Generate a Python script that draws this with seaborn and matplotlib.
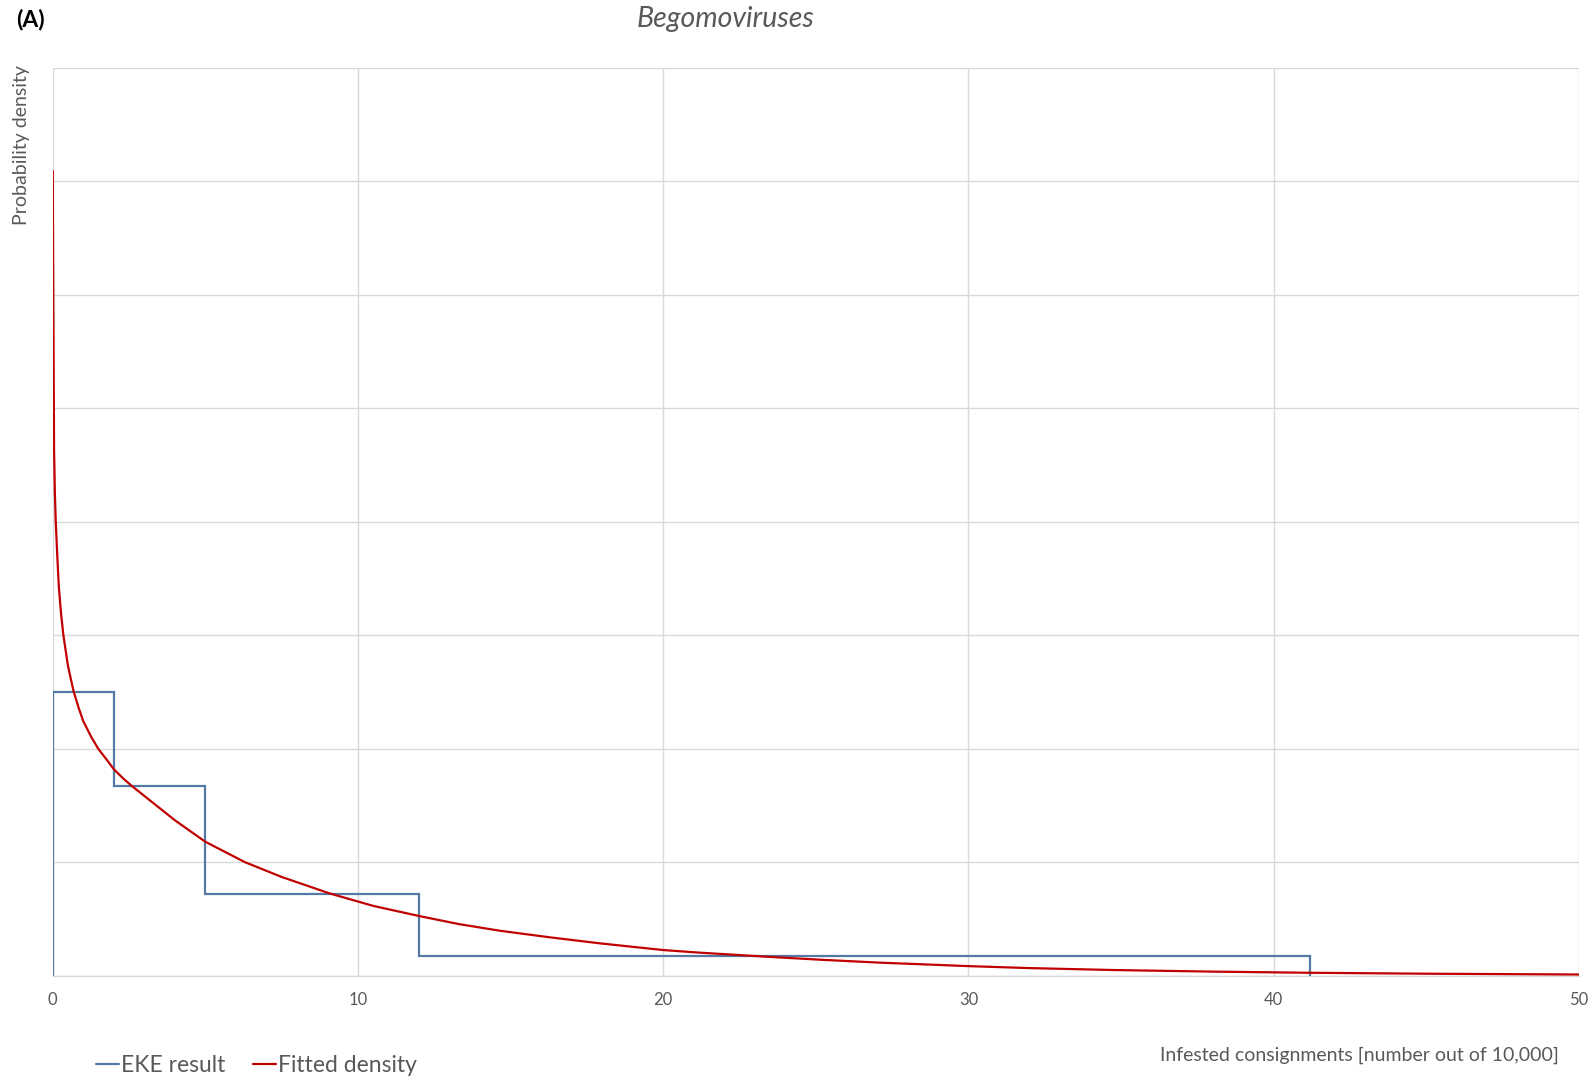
import matplotlib
matplotlib.use("Agg")
import matplotlib.pyplot as plt
import seaborn as sns
import pandas as pd
from matplotlib.lines import Line2D

# ---- data ----
eke_edges = [0, 2, 5, 12, 41.2]
eke_heights = [0.125, 0.0835, 0.0358, 0.0087]

fit_x = [0.003, 0.01, 0.02, 0.03, 0.045, 0.07, 0.1, 0.15, 0.2, 0.27, 0.35, 0.5,
         0.68, 0.85, 1.0, 1.25, 1.49, 1.75, 2.0, 2.3, 2.6, 3.3, 4.0, 5.0, 6.3,
         7.5, 9.06, 10.5, 12.0, 13.3, 14.65, 16.29, 17.93, 20.0, 21.2, 23.4,
         25.2, 27.1, 29.94, 32.0, 34.74, 38.0, 41.07, 45.0, 50.0]
fit_y = [0.3545, 0.325, 0.300, 0.270, 0.2315, 0.2130, 0.2000, 0.1850, 0.1715,
         0.1600, 0.1500, 0.1365, 0.1255, 0.1180, 0.1122, 0.1055, 0.1000, 0.0955,
         0.0910, 0.0870, 0.0835, 0.0760, 0.0685, 0.0590, 0.0500, 0.0435,
         0.0363, 0.03075, 0.0263, 0.02275, 0.0198, 0.0169, 0.01425, 0.0113,
         0.01015, 0.00835, 0.0070, 0.00575, 0.00425, 0.00335, 0.0025, 0.0018,
         0.0013, 0.00088, 0.00053]

x_ticks = [0, 10, 20, 30, 40, 50]
title = "Begomoviruses"
panel = "(A)"
xlabel = "Infested consignments [number out of 10,000]"
ylabel = "Probability density"
legend_labels = ["EKE result", "Fitted density"]

# ---- style ----
sns.set_theme(style="whitegrid")
plt.rcParams["font.family"] = ["Lato", "DejaVu Sans"]
grid_c = "#d9d9d9"
text_c = "#595959"
blue = "#5479a6"
red = "#c00000"

fig = plt.figure(figsize=(15.96, 10.8), dpi=100)
ax = fig.add_axes([52.7 / 1596, 1 - 975.7 / 1080, (1579 - 52.7) / 1596, (975.7 - 67.7) / 1080])

ax.stairs(eke_heights, eke_edges, baseline=0, color=blue, linewidth=1.6, zorder=3)
df = pd.DataFrame({"x": fit_x, "y": fit_y})
sns.lineplot(data=df, x="x", y="y", ax=ax, color=red, linewidth=1.6, zorder=4)

ax.set_xlim(0, 50)
ax.set_ylim(0, 0.4)
ax.set_xticks(x_ticks)
ax.set_xticklabels([str(t) for t in x_ticks])
ax.set_yticks([i * 0.05 for i in range(9)])
ax.set_yticklabels([])
ax.grid(True, color=grid_c, linewidth=1.0)
ax.set_axisbelow(True)
for s in ["top", "right", "left"]:
    ax.spines[s].set_visible(False)
ax.spines["bottom"].set_color(grid_c)
ax.spines["bottom"].set_linewidth(1.0)
ax.tick_params(axis="x", length=0, pad=12, labelsize=12, labelcolor=text_c)
ax.tick_params(axis="y", length=0)
ax.set_xlabel("")
ax.set_ylabel("")

fig.text(22 / 1596, 1 - 145 / 1080, ylabel, rotation=90, ha="center", va="center",
         fontsize=14, color=text_c)
fig.text(725 / 1596, 1 - 19 / 1080, title, ha="center", va="center",
         fontsize=20.5, style="italic", color=text_c)
fig.text(16 / 1596, 1 - 19 / 1080, panel, ha="left", va="center",
         fontsize=16.5, fontweight="bold", color="black")
fig.text(1559 / 1596, 1 - 1055 / 1080, xlabel, ha="right", va="center",
         fontsize=14, color=text_c)

handles = [Line2D([0], [0], color=blue, lw=1.6), Line2D([0], [0], color=red, lw=1.6)]
leg = fig.legend(handles, legend_labels, loc="center left",
                 bbox_to_anchor=(96 / 1596, 1 - 1066 / 1080), ncol=2, frameon=False,
                 handlelength=1.0, handletextpad=0.1, columnspacing=1.2,
                 fontsize=16.5, borderaxespad=0, borderpad=0)
for t in leg.get_texts():
    t.set_color(text_c)

fig.savefig("out.png", dpi=100)
